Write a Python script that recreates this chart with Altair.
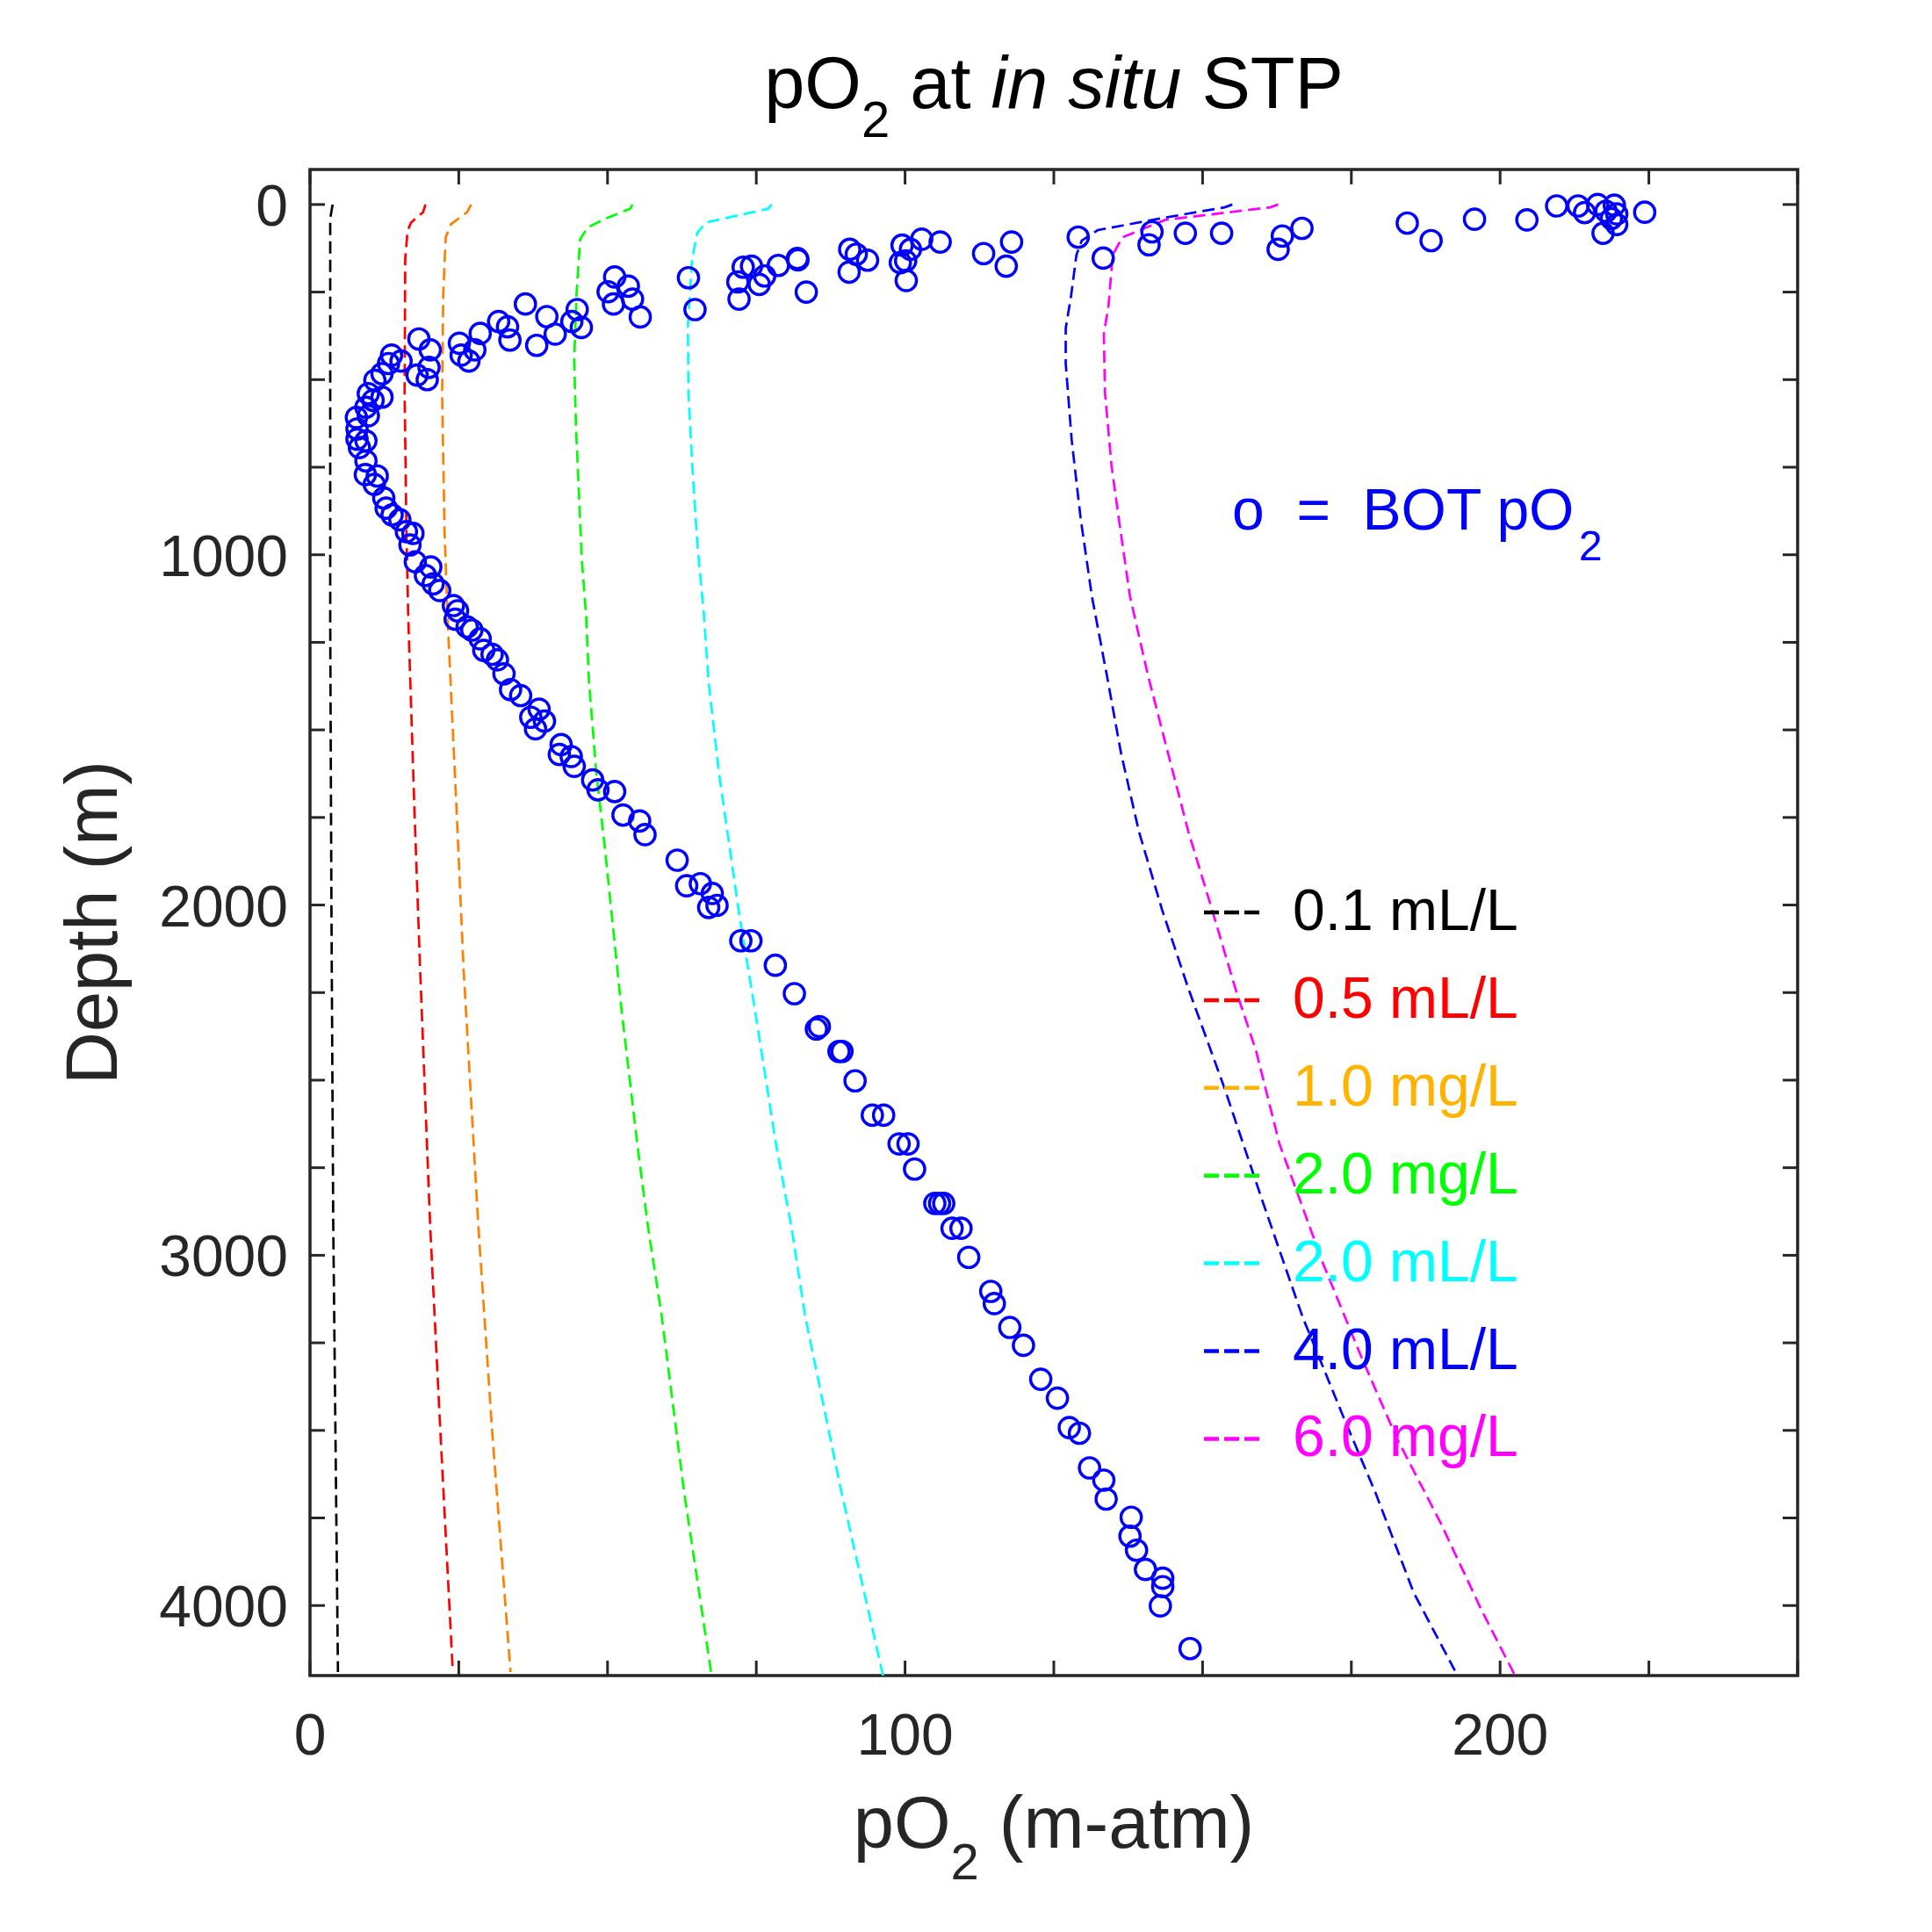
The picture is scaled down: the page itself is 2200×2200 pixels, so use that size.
import altair as alt
import pandas as pd

FONT = "Liberation Sans"
W, H = 1694, 1715
AXC = "#262626"

# ---------------- BOT pO2 observations (pO2 in m-atm, depth in m) ----------------
bot_po2 = [224.3, 219.6, 217.3, 218.7, 219.6, 219.2, 217.8, 216.4, 214.2, 213.1, 209.5, 204.5,
           195.7, 188.4, 184.4, 166.7, 163.4, 162.7, 153.2, 147.1, 141.5, 141.0, 133.3, 129.1,
           117.9, 117.0, 113.2, 105.9, 102.8, 100.9, 99.5, 100.1, 99.2, 100.2, 93.7, 91.8, 90.7,
           90.6, 83.4, 81.9, 82.0, 78.7, 76.4, 75.5, 74.2, 72.8, 71.9, 72.1, 64.7, 63.6, 55.5,
           54.2, 53.5, 51.2, 51.0, 50.1, 45.6, 44.9, 44.0, 41.2, 39.8, 38.1, 36.2, 33.6, 33.2,
           31.7, 28.6, 27.7, 26.7, 25.4, 25.1, 20.2, 20.0, 19.7, 18.3, 18.0, 15.3, 13.7, 13.2,
           12.1, 10.9, 12.1, 9.8, 10.6, 9.4, 9.8, 7.8, 7.9, 7.9, 9.4, 8.3, 9.4, 9.3, 11.3, 10.8,
           12.4, 12.8, 13.8, 15.1, 16.2, 17.3, 16.8, 17.7, 20.3, 19.4, 20.7, 21.8, 24.1, 24.8,
           24.4, 26.4, 27.2, 28.6, 29.2, 30.6, 31.5, 32.6, 33.7, 35.4, 38.5, 37.1, 39.4, 37.9,
           42.2, 41.9, 43.9, 44.4, 47.5, 48.4, 51.2, 52.6, 55.4, 56.3, 61.7, 63.3, 65.6, 67.6,
           68.4, 67.0, 72.4, 74.1, 78.2, 81.4, 85.1, 85.6, 88.9, 89.4, 91.6, 94.5, 96.4, 99.0,
           100.5, 101.6, 105.0, 105.8, 106.5, 107.9, 109.4, 110.7, 114.4, 115.0, 117.6, 119.9,
           122.8, 125.6, 127.6, 129.3, 131.0, 133.4, 133.8, 138.0, 137.8, 138.9, 140.4, 143.3,
           143.3, 142.9, 147.9]
bot_depth = [22, 57, 82, 40, 27, 2, 19, 0, 23, 4, 4, 44,
             42, 103, 53, 68, 90, 128, 82, 82, 78, 115, 153, 93,
             107, 176, 140, 107, 99, 128, 116, 161, 166, 217, 159, 142, 128,
             193, 250, 154, 158, 174, 204, 228, 176, 179, 221, 270, 300, 209, 321,
             270, 233, 207, 284, 249, 351, 300, 334, 370, 320, 402, 284, 387, 349,
             334, 368, 415, 447, 430, 396, 415, 465, 500, 384, 487, 447, 430, 454,
             483, 502, 550, 540, 559, 579, 603, 608, 641, 670, 675, 694, 732, 771, 775, 799,
             838, 867, 886, 900, 934, 939, 972, 1020, 1035, 1059, 1083, 1102, 1145, 1160,
             1184, 1206, 1215, 1240, 1273, 1284, 1300, 1340, 1385, 1402, 1441, 1464, 1475, 1497,
             1542, 1570, 1576, 1604, 1643, 1671, 1676, 1743, 1760, 1799, 1872, 1945, 1939, 1967,
             2001, 2007, 2102, 2102, 2172, 2253, 2354, 2347, 2418, 2418, 2502, 2600, 2600, 2682,
             2682, 2754, 2852, 2852, 2852, 2923, 2923, 3006, 3103, 3138, 3206, 3257,
             3354, 3408, 3492, 3508, 3607, 3642, 3696, 3748, 3802, 3842, 3897, 3922,
             3946, 4001, 4123]

# ---------------- pO2 equivalent of oxygen thresholds ----------------
depth_01ml = [0, 40, 500, 1200, 2000, 2900, 4190]
po2_01ml = [3.8, 3.4, 3.4, 3.4, 3.6, 3.9, 4.7]

depth_05ml = [0, 22, 51, 75, 156, 540, 924, 1173, 1754, 2180, 2919, 3500, 4190]
po2_05ml = [19.4, 19.0, 17.0, 16.4, 16.0, 15.9, 16.2, 16.5, 17.6, 18.5, 20.2, 21.9, 24.0]

depth_10mg = [0, 22, 56, 94, 252, 540, 924, 1173, 1754, 2180, 2919, 3500, 4190]
po2_10mg = [27.1, 26.4, 23.7, 22.8, 22.4, 22.2, 22.6, 23.1, 24.7, 25.8, 28.3, 30.6, 33.7]

depth_20mg = [0, 12, 37, 65, 99, 252, 444, 636, 828, 1020, 1173, 1366, 1620, 1844, 2292,
              2682, 2919, 3173, 3668, 4190]
po2_20mg = [54.2, 53.8, 50.1, 46.7, 45.4, 44.8, 44.4, 44.7, 45.2, 45.7, 46.4, 46.9, 48.1, 49.6,
            52.3, 55.0, 56.8, 59.1, 62.8, 67.4]

depth_20ml = [0, 12, 51, 80, 156, 349, 540, 732, 972, 1173, 1366, 1620, 2023, 2292, 2682,
              2919, 3173, 3668, 4200]
po2_20ml = [77.6, 77.0, 66.6, 65.1, 64.2, 63.5, 63.6, 64.2, 65.1, 66.2, 67.0, 68.7, 72.1, 74.7,
            78.3, 80.9, 83.2, 89.2, 96.3]

depth_40ml = [0, 8, 40, 73, 103, 144, 261, 353, 454, 672, 895, 1119, 1343, 1567, 1790, 2014,
              2238, 2519, 2842, 3176, 3463, 3680, 3964, 4186]
po2_40ml = [155.0, 153.7, 142.8, 132.4, 129.7, 128.8, 127.9, 127.0, 127.0, 128.0, 129.5, 131.4,
            133.9, 136.3, 139.3, 143.2, 147.6, 153.6, 160.0, 166.8, 173.7, 179.1, 185.5, 192.4]

depth_60mg = [0, 8, 44, 94, 144, 287, 370, 537, 746, 895, 1119, 1343, 1567, 1790, 2014, 2238,
              2417, 2681, 3026, 3291, 3521, 3764, 4014, 4200]
po2_60mg = [162.7, 161.4, 143.7, 136.5, 134.9, 134.2, 133.4, 133.6, 134.7, 135.9, 137.8, 140.8,
            144.2, 147.6, 151.6, 155.5, 159.0, 162.9, 170.3, 176.7, 182.6, 190.0, 196.9, 202.5]

series_names = ["0.1 mL/L", "0.5 mL/L", "1.0 mg/L", "2.0 mg/L", "2.0 mL/L", "4.0 mL/L", "6.0 mg/L"]
series_depths = [depth_01ml, depth_05ml, depth_10mg, depth_20mg, depth_20ml, depth_40ml, depth_60mg]
series_po2 = [po2_01ml, po2_05ml, po2_10mg, po2_20mg, po2_20ml, po2_40ml, po2_60mg]
line_colors = ["#000000", "#FF0000", "#FF8000", "#00FF00", "#00FFFF", "#0000FF", "#FF00FF"]
legend_colors = ["#000000", "#FF0000", "#FFB300", "#00FF00", "#00FFFF", "#0000FF", "#FF00FF"]

x_ticks = list(range(0, 251, 25))
y_ticks = list(range(0, 4001, 250))
x_labels = [0, 100, 200]
y_labels = [0, 1000, 2000, 3000, 4000]

# ---------------- tables ----------------
rows = []
for name, ds, ps in zip(series_names, series_depths, series_po2):
    for i, (d, p) in enumerate(zip(ds, ps)):
        rows.append({"series": name, "depth": d, "po2": p, "k": i})
lines_df = pd.DataFrame(rows)
bot_df = pd.DataFrame({"po2": bot_po2, "depth": bot_depth})
xt_df = pd.DataFrame({"po2": x_ticks})
yt_df = pd.DataFrame({"depth": y_ticks})
xl_df = pd.DataFrame({"po2": x_labels, "lab": [str(v) for v in x_labels]})
yl_df = pd.DataFrame({"depth": y_labels, "lab": [str(v) for v in y_labels]})

xs = alt.Scale(domain=[0, 250], nice=False, zero=False)
ys = alt.Scale(domain=[-100, 4200], nice=False, zero=False, reverse=True)
X = alt.X("po2:Q", scale=xs, axis=None)
Y = alt.Y("depth:Q", scale=ys, axis=None)

lines = alt.Chart(lines_df).mark_line(strokeDash=[14, 7], strokeWidth=2.7, clip=True).encode(
    x=X, y=Y,
    color=alt.Color("series:N", scale=alt.Scale(domain=series_names, range=line_colors), legend=None),
    order="k:Q",
)

points = alt.Chart(bot_df).mark_point(shape="circle", filled=False, size=540, strokeWidth=3.4,
                                      color="#0000FF", opacity=1, clip=True).encode(x=X, y=Y)

TL = 17
tick_layers = [
    alt.Chart(xt_df).mark_rule(color=AXC, strokeWidth=3).encode(x=X, y=alt.value(H), y2=alt.value(H - TL)),
    alt.Chart(xt_df).mark_rule(color=AXC, strokeWidth=3).encode(x=X, y=alt.value(0), y2=alt.value(TL)),
    alt.Chart(yt_df).mark_rule(color=AXC, strokeWidth=3).encode(y=Y, x=alt.value(0), x2=alt.value(TL)),
    alt.Chart(yt_df).mark_rule(color=AXC, strokeWidth=3).encode(y=Y, x=alt.value(W), x2=alt.value(W - TL)),
]

TICK_FS = 66
xlab = alt.Chart(xl_df).mark_text(font=FONT, fontSize=TICK_FS, color=AXC, align="center",
                                  baseline="alphabetic").encode(x=X, y=alt.value(H + 90), text="lab:N")
ylab = alt.Chart(yl_df).mark_text(font=FONT, fontSize=TICK_FS, color=AXC, align="right",
                                  baseline="alphabetic", dy=24).encode(y=Y, x=alt.value(-25), text="lab:N")

# ---------------- text helpers ----------------
AW = {'p': 556, 'O': 778, '2': 556, ' ': 278, '\u00a0': 278, 'a': 556, 't': 278, 'i': 222, 'n': 556,
      's': 500, 'u': 556, 'S': 667, 'T': 611, 'P': 667, '(': 333, 'm': 833, '-': 333, ')': 333,
      'o': 556, '=': 584, 'B': 667, 'D': 722, 'e': 556, 'h': 556}


def tw(s, fs):
    return sum(AW.get(c, 556) for c in s) * fs / 1000.0


def txt(s, x, y, fs, color, align="left", style="normal", angle=0):
    kw = dict(font=FONT, fontSize=fs, color=color, align=align, baseline="alphabetic", fontStyle=style)
    if angle:
        kw["angle"] = angle
    return alt.Chart(pd.DataFrame({"t": [s]})).mark_text(**kw).encode(
        x=alt.value(x), y=alt.value(y), text="t:N")


texts = []
# Title: pO2 at in situ STP
TF, TS, TSH = 83, 58, 33
ty = -70
total = tw("pO", TF) + tw("2", TS) + tw(" at ", TF) + tw("in situ", TF) + tw(" STP", TF)
x0 = W / 2 - total / 2
texts.append(txt("pO", x0, ty, TF, "#000000"))
x1 = x0 + tw("pO", TF)
texts.append(txt("2", x1, ty + TSH, TS, "#000000"))
x2 = x1 + tw("2", TS) + tw(" ", TF)
texts.append(txt("at", x2, ty, TF, "#000000"))
x3 = x2 + tw("at ", TF)
texts.append(txt("in situ", x3, ty, TF, "#000000", style="italic"))
x4 = x3 + tw("in situ ", TF)
texts.append(txt("STP", x4, ty, TF, "#000000"))

# X axis title: pO2 (m-atm)
xy = H + 196
total = tw("pO", TF) + tw("2", TS) + tw(" (m-atm)", TF)
x0 = W / 2 - total / 2
texts.append(txt("pO", x0, xy, TF, AXC))
x1 = x0 + tw("pO", TF)
texts.append(txt("2", x1, xy + 36, TS, AXC))
x2 = x1 + tw("2", TS) + tw(" ", TF)
texts.append(txt("(m-atm)", x2, xy, TF, AXC))

# Y axis title
texts.append(txt("Depth (m)", -220, H / 2, TF, AXC, align="center", angle=270))

# Annotation: o = BOT pO2
AF, AS = 66, 48
ann = "o\u00a0\u00a0=\u00a0\u00a0BOT pO"
texts.append(txt(ann, 1050, 410, AF, "#0000FF"))
texts.append(txt("2", 1050 + tw(ann, AF) + 4, 410 + 35, AS, "#0000FF"))

# Legend
legend_layers = []
for i, (name, col) in enumerate(zip(series_names, legend_colors)):
    ly = 846 + 99.9 * i
    legend_layers.append(
        alt.Chart(pd.DataFrame({"s": [name]})).mark_rule(color=col, strokeWidth=4.5, strokeDash=[17, 6]).encode(
            x=alt.value(1018), x2=alt.value(1081), y=alt.value(ly)))
    legend_layers.append(txt(name, 1119, ly + 20, AF, col))

chart = alt.layer(
    lines, points, *tick_layers, xlab, ylab, *texts, *legend_layers
).properties(
    width=W, height=H,
    padding={"left": 345, "top": 185, "right": 137, "bottom": 276},
    autosize=alt.AutoSizeParams(type="none"),
    background="white",
).configure_view(stroke=AXC, strokeWidth=3.5)

chart.save("out.html", embed_options={"renderer": "svg", "actions": False})
